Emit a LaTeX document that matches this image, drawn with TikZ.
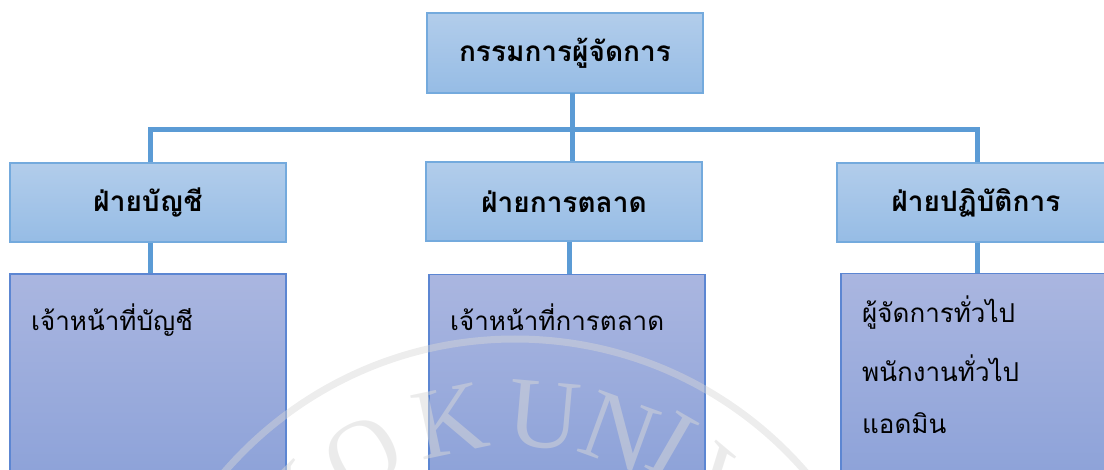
\documentclass[tikz,border=0pt]{standalone}
\usepackage{fontspec}
\newfontfamily\thai[Script=Thai]{Loma}
\newfontfamily\wmfont{Liberation Serif}
\definecolor{conn}{HTML}{5B9BD5}
\definecolor{topA}{HTML}{B2CDEB}
\definecolor{topB}{HTML}{96BCE5}
\definecolor{topBorder}{HTML}{74AADD}
\definecolor{botA}{HTML}{AAB6E0}
\definecolor{botB}{HTML}{879ED7}
\definecolor{botBorder}{HTML}{5C86D2}
\definecolor{wm}{HTML}{D8D8D8}
\begin{document}
\begin{tikzpicture}[x=1pt,y=-1pt,
  headbox/.style={rectangle, draw=topBorder, line width=1.3pt, top color=topA, bottom color=topB,
    minimum width=276pt, minimum height=79pt, inner sep=0pt, font=\thai\bfseries\fontsize{28}{32}\selectfont},
  staffbox/.style={rectangle, draw=botBorder, line width=1.3pt, top color=botA, bottom color=botB,
    minimum width=276pt, minimum height=246pt, inner sep=0pt},
  stafftext/.style={anchor=west, inner sep=0pt, font=\thai\fontsize{26}{30}\selectfont},
  link/.style={draw=conn, line width=5pt},
  wmletter/.style={inner sep=0pt, text=wm, text opacity=0.5, font=\wmfont\fontsize{100}{100}\selectfont}
]
\useasboundingbox (0,0) rectangle (1104,470);
\clip (0,0) rectangle (1104,470);

% boxes
\node[headbox, minimum height=80pt] (ceo) at (565,53) {กรรมการผู้จัดการ};
\node[headbox] (acc) at (148,202.5) {ฝ่ายบัญชี};
\node[headbox] (mkt) at (564,201.5) {ฝ่ายการตลาด};
\node[headbox, minimum width=278pt] (ops) at (976,202.5) {ฝ่ายปฏิบัติการ};

\node[staffbox] (accs) at (148,397) {};
\node[staffbox] (mkts) at (567,397.5) {};
\node[staffbox, minimum width=274pt] (opss) at (978,396.5) {};

% connectors
\coordinate (bus) at (0,130);
\coordinate (ceoport) at (572,93);
\draw[link] (ceoport) -- (ceoport |- bus);
\draw[link] ([xshift=2pt]acc.north) -- ([xshift=2pt]acc.north |- bus) -- ([xshift=1pt]ops.north |- bus) -- ([xshift=1pt]ops.north);
\draw[link] (ceoport |- bus) -- (ceoport |- mkt.north);
\draw[link] ([xshift=2pt]acc.south) -- ([xshift=2pt]acc.south |- accs.north);
\draw[link] ([xshift=5pt]mkt.south) -- ([xshift=5pt]mkt.south |- mkts.north);
\draw[link] ([xshift=1pt]ops.south) -- ([xshift=1pt]ops.south |- opss.north);

% staff texts
\node[stafftext] (t1) at (31,320) {เจ้าหน้าที่บัญชี};
\node[stafftext] (t2) at (450,317) {เจ้าหน้าที่การตลาด};
\node[stafftext] (t3) at (862,313) {ผู้จัดการทั่วไป};
\node[stafftext] (t4) at (862,368) {พนักงานทั่วไป};
\node[stafftext] (t5) at (862,423) {แอดมิน};

% watermark
\draw[wm, line width=7pt, opacity=0.45] (515,723) circle[radius=384];
\node[wmletter, rotate=45] (w1) at (296,503) {K};
\node[wmletter, rotate=29] (w2) at (363,455) {O};
\node[wmletter, rotate=12] (w3) at (450,421) {K};
\node[wmletter, rotate=-5] (w4) at (544,416) {U};
\node[wmletter, rotate=-20] (w5) at (620,432) {N};
\node[wmletter, rotate=-30] (w6) at (672,445) {I};
\node[wmletter, rotate=-40] (w7) at (722,488) {V};
\end{tikzpicture}
\end{document}
